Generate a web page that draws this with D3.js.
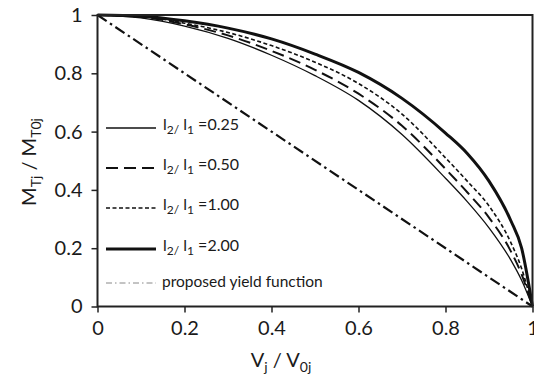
<!DOCTYPE html>
<html>
<head>
<meta charset="utf-8">
<script src="https://cdn.jsdelivr.net/npm/d3@7"></script>
<style>
body { margin: 0; background: #fff; }
text { font-family: Lato, "Open Sans", sans-serif; fill: #1a1a1a; }
</style>
</head>
<body>
<script>
// values
const vj   = [0, 0.1, 0.2, 0.3, 0.4, 0.5, 0.6, 0.7, 0.8, 0.85, 0.9, 0.95, 0.975, 1];
const r025 = [1, 0.99, 0.962, 0.92, 0.862, 0.792, 0.707, 0.59, 0.44, 0.36, 0.27, 0.16, 0.09, 0];
const r050 = [1, 0.993, 0.968, 0.93, 0.877, 0.812, 0.73, 0.62, 0.472, 0.392, 0.305, 0.19, 0.11, 0];
const r100 = [1, 0.995, 0.972, 0.94, 0.895, 0.838, 0.765, 0.66, 0.51, 0.43, 0.345, 0.22, 0.13, 0];
const r200 = [1, 0.996, 0.98, 0.955, 0.918, 0.866, 0.803, 0.714, 0.595, 0.525, 0.43, 0.295, 0.2, 0];
const yieldV = [0, 1];
const yieldM = [1, 0];
const ticks = [0, 0.2, 0.4, 0.6, 0.8, 1];
const ratioLabels = ["0.25", "0.50", "1.00", "2.00"];

const margin = {top: 15, right: 1.5, bottom: 76.5, left: 97.5};
const W = 534, H = 383;
const width = W - margin.left - margin.right;
const height = H - margin.top - margin.bottom;

const svg = d3.select("body").append("svg").attr("width", W).attr("height", H);
const g = svg.append("g").attr("transform", `translate(${margin.left},${margin.top})`);

const x = d3.scaleLinear().domain([0, 1]).range([0, width]);
const y = d3.scaleLinear().domain([0, 1]).range([height, 0]);

// styles of each series
const series = [
  {vals: r025, w: 1.3, dash: null},
  {vals: r050, w: 2, dash: "12,6"},
  {vals: r100, w: 1.6, dash: "4,2.5"},
  {vals: r200, w: 3, dash: null}
];

const line = d3.line().x(d => x(d[0])).y(d => y(d[1])).curve(d3.curveMonotoneX);

g.append("path")
  .datum(yieldV.map((v, i) => [v, yieldM[i]]))
  .attr("d", line).attr("fill", "none").attr("stroke", "#111")
  .attr("stroke-width", 2.2).attr("stroke-dasharray", "11,4,2.5,4");

series.forEach(s => {
  g.append("path")
    .datum(vj.map((v, i) => [v, s.vals[i]]))
    .attr("d", line).attr("fill", "none").attr("stroke", "#111")
    .attr("stroke-width", s.w).attr("stroke-dasharray", s.dash);
});

// frame
g.append("rect").attr("width", width).attr("height", height)
  .attr("fill", "none").attr("stroke", "#222").attr("stroke-width", 2);

const fmt = d => d === 0 || d === 1 ? d3.format("d")(d) : d3.format(".1f")(d);
const xa = g.append("g").attr("transform", `translate(0,${height})`)
  .call(d3.axisBottom(x).tickValues(ticks).tickFormat(fmt).tickSize(6).tickPadding(8));
const ya = g.append("g")
  .call(d3.axisLeft(y).tickValues(ticks).tickFormat(fmt).tickSize(6).tickPadding(9));
[xa, ya].forEach(a => {
  a.select(".domain").remove();
  a.selectAll("line").attr("stroke", "#222").attr("stroke-width", 1.5);
  a.selectAll("text").style("font-size", "20px").attr("fill", "#1a1a1a");
});

// axis titles
const xt = svg.append("text").attr("x", 281).attr("y", 367)
  .attr("text-anchor", "middle").style("font-size", "20px");
xt.append("tspan").text("V");
xt.append("tspan").attr("dy", 5).style("font-size", "14px").text("j");
xt.append("tspan").attr("dy", -5).text(" / V");
xt.append("tspan").attr("dy", 5).style("font-size", "14px").text("0j");

const yt = svg.append("text").attr("transform", "translate(36,162) rotate(-90)")
  .attr("text-anchor", "middle").style("font-size", "20px");
yt.append("tspan").text("M");
yt.append("tspan").attr("dy", 5).style("font-size", "14px").text("Tj");
yt.append("tspan").attr("dy", -5).text(" / M");
yt.append("tspan").attr("dy", 5).style("font-size", "14px").text("T0j");

// legend
const legY = [128, 168, 208, 249];
series.forEach((s, i) => {
  svg.append("line").attr("x1", 106).attr("x2", 156).attr("y1", legY[i]).attr("y2", legY[i])
    .attr("stroke", "#111").attr("stroke-width", s.w).attr("stroke-dasharray", s.dash);
  const t = svg.append("text").attr("x", 163).attr("y", legY[i] + 2)
    .style("font-size", "16px");
  t.append("tspan").text("l");
  t.append("tspan").attr("dy", 4).style("font-size", "12px").text("2/");
  t.append("tspan").attr("dy", -4).text(" l");
  t.append("tspan").attr("dy", 4).style("font-size", "12px").text("1");
  t.append("tspan").attr("dy", -4).text(" =" + ratioLabels[i]);
});
svg.append("line").attr("x1", 106).attr("x2", 156).attr("y1", 283).attr("y2", 283)
  .attr("stroke", "#888").attr("stroke-width", 1).attr("stroke-dasharray", "6,3,1.5,3");
svg.append("text").attr("x", 162).attr("y", 287).style("font-size", "15.5px")
  .text("proposed yield function");
</script>
</body>
</html>
